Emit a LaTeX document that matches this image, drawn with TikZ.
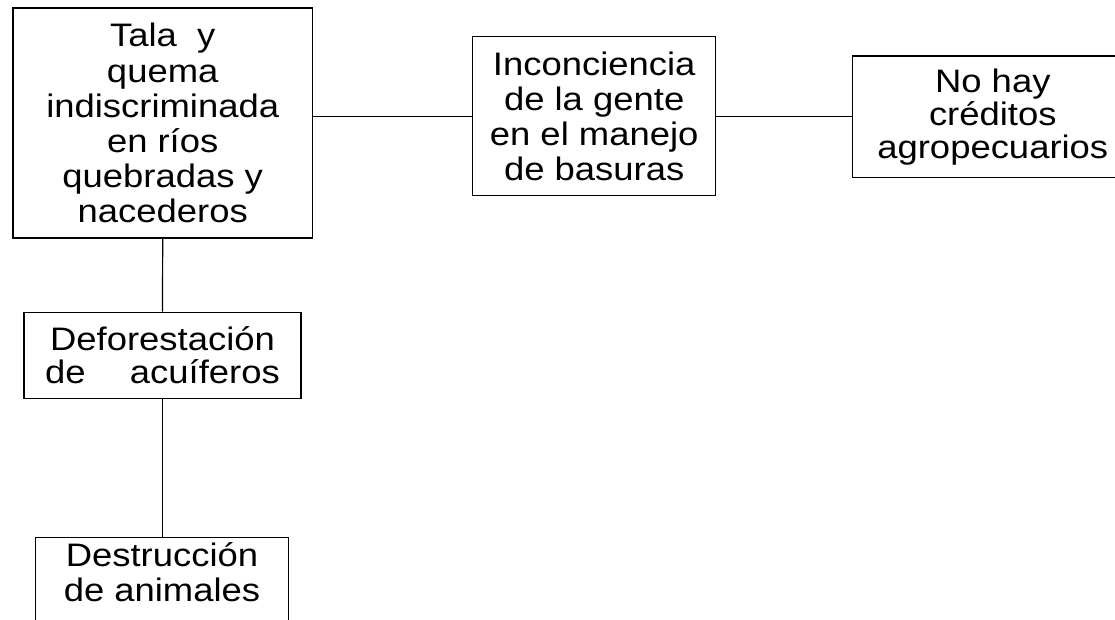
\documentclass[tikz,border=0pt]{standalone}
\usepackage{fontspec}
\setmainfont[FakeStretch=1.12]{Liberation Sans}
\begin{document}
\begin{tikzpicture}[x=0.75pt,y=-0.75pt,
  box/.style={draw=black, line width=0.9pt, inner sep=0pt, align=center,
    font=\fontsize{24.4pt}{26.3pt}\selectfont},
  boxtight/.style={box, font=\fontsize{24.4pt}{24.8pt}\selectfont},
  plain/.style={inner sep=0pt, align=center, font=\fontsize{24.4pt}{26.3pt}\selectfont},
  link/.style={draw=black, line width=0.9pt}]
\clip (0,0) rectangle (1115,619);
\fill[white] (0,0) rectangle (1115,619);
\node[box, minimum width=224.6pt, minimum height=172.5pt] (A) at (162.7,123)
  {Tala\ \ y\\quema\\indiscriminada\\en ríos\\quebradas y\\nacederos};
\node[box, minimum width=182.25pt, minimum height=119.25pt] (B) at (594.2,116.2)
  {Inconciencia\\de la gente\\en el manejo\\de basuras};
\node[boxtight, minimum width=210pt, minimum height=91.3pt] (C) at (992.8,116.9)
  {No hay\\créditos\\agropecuarios};
\node[boxtight, minimum width=207.75pt, minimum height=64.5pt] (D) at (162.5,355.3)
  {Deforestación\\\makebox[176pt][s]{de\hfil acuíferos}};
\node[box, minimum width=189.45pt, minimum height=90pt] (E) at (162,597.7) {};
\node[plain, anchor=north] (Et) at (162,542) {Destrucción\\de animales};
\draw[link] (A.east |- B.west) -- (B.west);
\draw[link] (B.east) -- (B.east -| C.west);
\draw[link] (A.south) -- (D.north);
\draw[link] (D.south) -- (D.south |- E.north);
\end{tikzpicture}
\end{document}
